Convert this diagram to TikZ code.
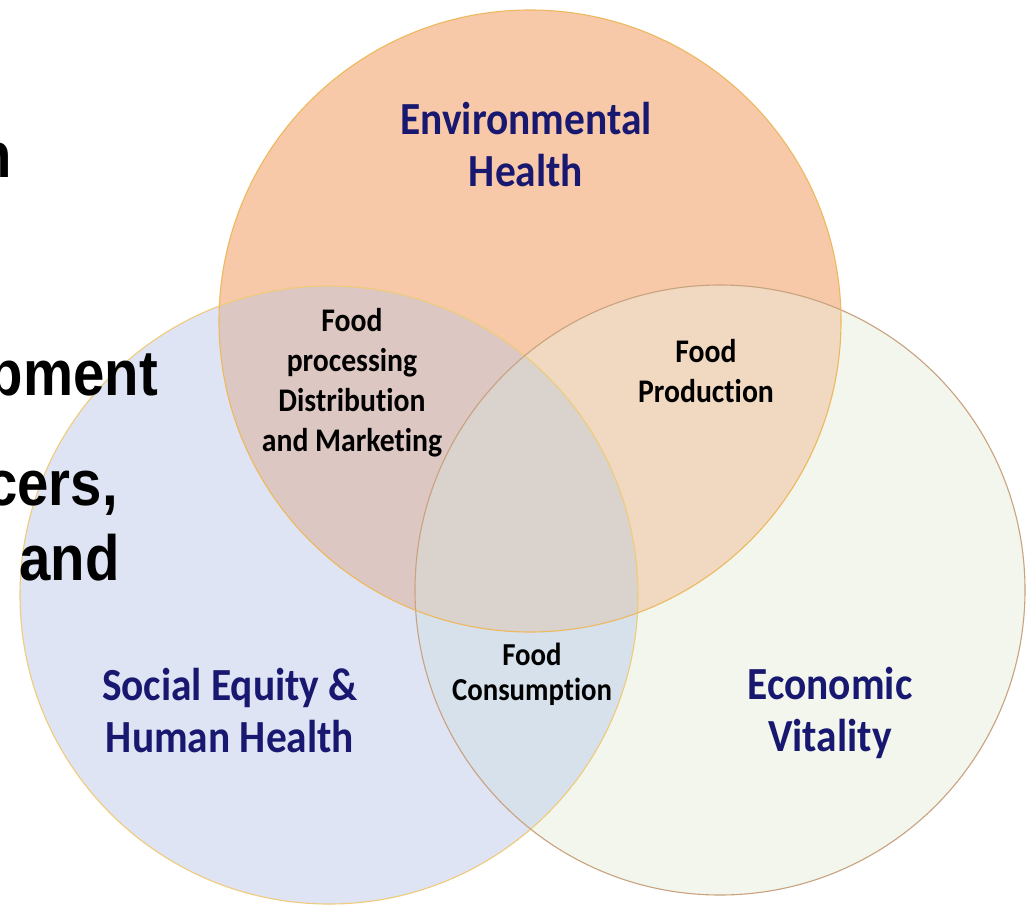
\documentclass[tikz,border=0pt]{standalone}
\usepackage{fontspec}
\newfontfamily\vennfont[FakeStretch=0.9,Ligatures=NoCommon]{Carlito}
\newfontfamily\slidefont[FakeStretch=0.88]{Liberation Sans}
\definecolor{navy}{RGB}{24,24,112}
\definecolor{envfill}{HTML}{F8C9A9}
\definecolor{socfill}{HTML}{DFE4F4}
\definecolor{ecofill}{HTML}{F2F6ED}
\definecolor{envsoc}{HTML}{DDC7C3}
\definecolor{enveco}{HTML}{F1D9C1}
\definecolor{soceco}{HTML}{D7E1EC}
\definecolor{allfill}{HTML}{DAD2CD}
\definecolor{envline}{HTML}{EDB95E}
\definecolor{socline}{HTML}{EFCB7A}
\definecolor{ecoline}{HTML}{C9A27E}
\begin{document}
\begin{tikzpicture}[x=1pt,y=-1pt,
  set line/.style={line width=1.1pt},
  area label/.style={font=\vennfont\bfseries\fontsize{46}{52}\selectfont,text=navy,align=center,inner sep=0pt},
  food label/.style={font=\vennfont\bfseries\fontsize{33}{40}\selectfont,text=black,align=center,inner sep=0pt},
  slide text/.style={font=\slidefont\bfseries\fontsize{64}{64}\selectfont,anchor=base east,inner sep=0pt}]
\clip (0,0) rectangle (1027,907);
\fill[white] (0,0) rectangle (1027,907);
\coordinate (env) at (530,321);
\coordinate (soc) at (329,595);
\coordinate (eco) at (720,590);
% circle areas
\fill[socfill] (soc) circle[radius=309pt];
\fill[ecofill] (eco) circle[radius=305pt];
\begin{scope}
\clip (soc) circle[radius=309pt];
\fill[soceco] (eco) circle[radius=305pt];
\end{scope}
\fill[envfill] (env) circle[radius=311pt];
\begin{scope}
\clip (env) circle[radius=311pt];
\fill[envsoc] (soc) circle[radius=309pt];
\fill[enveco] (eco) circle[radius=305pt];
\clip (soc) circle[radius=309pt];
\fill[allfill] (eco) circle[radius=305pt];
\end{scope}
% outlines
\draw[set line,socline] (soc) circle[radius=309pt];
\draw[set line,ecoline] (eco) circle[radius=305pt];
\draw[set line,envline] (env) circle[radius=311pt];
% labels
\node[area label] (envtext) at (526,145) {Environmental\\Health};
\node[area label] (soctext) at (230,711) {Social Equity \&\\Human Health};
\node[area label] (ecotext) at (830,713) {Economic\\Vitality};
\node[food label] (fproc) at (352,383) {Food\\processing\\Distribution\\and Marketing};
\node[food label] (fprod) at (706,371) {Food\\Production};
\node[food label,font=\vennfont\bfseries\fontsize{32}{35}\selectfont] (fcons) at (532,674) {Food\\Consumption};
% cut-off slide text
\node[slide text] (s1) at (12,177) {n};
\node[slide text] (s2) at (158,395) {pment};
\node[slide text] (s3) at (118,505) {cers,};
\node[slide text] (s4) at (120,580) {and};
\end{tikzpicture}
\end{document}
